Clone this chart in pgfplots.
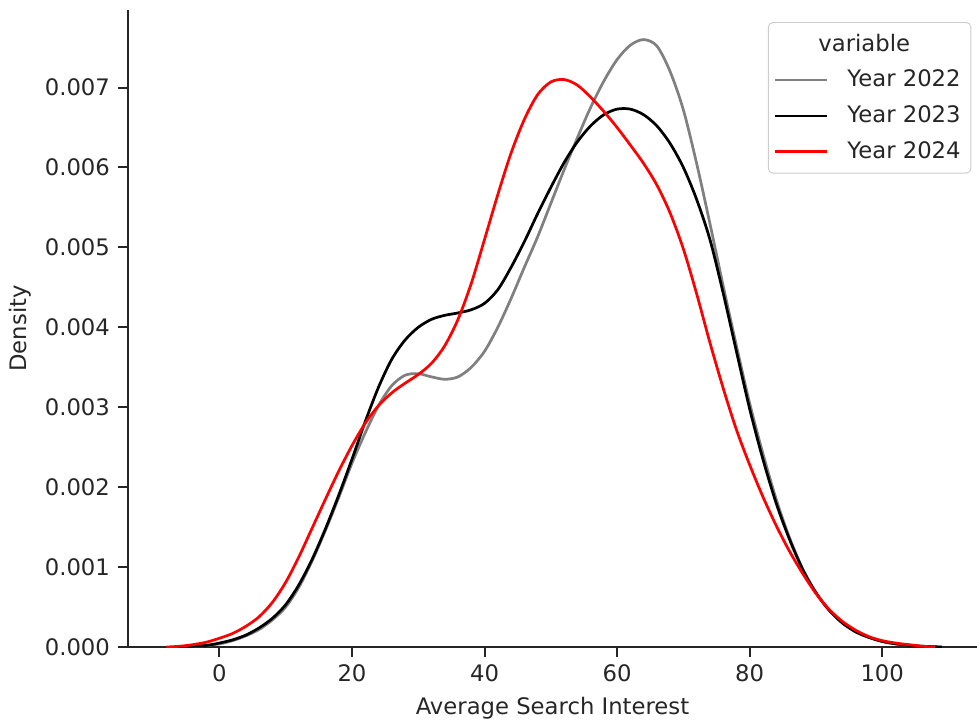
\documentclass[border=0pt]{standalone}
\usepackage{pgfplots}
\pgfplotsset{compat=1.18}
\usepackage{fontspec}
\setmainfont{DejaVu Sans}
\definecolor{txt}{gray}{0.15}
\definecolor{lg}{HTML}{808080}
\begin{document}
\begin{tikzpicture}
\begin{axis}[
  scale only axis,
  width=373.6pt, height=280.3pt,
  xmin=-13.8, xmax=114.3, ymin=0, ymax=0.00797,
  axis lines*=left,
  axis line style={txt, line width=0.9pt},
  every tick/.style={txt, line width=0.9pt},
  tick align=outside,
  major tick length=4.4pt,
  xtick={0,20,40,60,80,100},
  ytick={0,0.001,0.002,0.003,0.004,0.005,0.006,0.007},
  scaled y ticks=false,
  yticklabel style={/pgf/number format/.cd, fixed, fixed zerofill, precision=3},
  /pgf/number format/assume math mode=true,
  tick label style={font=\fontsize{10}{12}\selectfont, text=txt},
  xlabel={Average Search Interest},
  ylabel={Density},
  label style={font=\fontsize{10}{12}\selectfont, text=txt},
  xlabel style={at={(rel axis cs:0.5,0)}, anchor=center, yshift=-27pt},
  ylabel style={at={(axis description cs:-0.1271,0.5)}, anchor=center},
  legend style={at={(rel axis cs:1,1)}, anchor=north east, xshift=-2.5pt, yshift=-5.3pt,
    draw=black!20, rounded corners=2pt, fill=white, text=txt,
    font=\fontsize{10}{12}\selectfont, row sep=2.8pt, inner xsep=2.5pt, inner ysep=3pt,
    /tikz/every odd column/.append style={column sep=6.6pt}},
  legend cell align=left,
  legend image code/.code={\draw[#1] (0cm,0cm) -- (0.79cm,0cm);},
  every axis plot/.append style={line width=1.2pt},
]
\coordinate (bl) at (rel axis cs:0,0);
\coordinate (tr) at (rel axis cs:1,1);
\addlegendimage{empty legend}
\addlegendentry{\hspace*{-12.8pt}variable}
% Year 2022
\addplot[lg, smooth, tension=0.5] coordinates {
(-6,0) (-4,0.00001) (-2,0.00002) (0,0.00004) (2,0.00008) (4,0.00014) (6,0.00022)
(8,0.00034) (10,0.0005) (12,0.00075) (14,0.00108) (16,0.00146) (18,0.00187)
(20,0.0023) (22,0.00268) (24,0.00302) (26,0.00327) (28,0.0034) (30,0.00342)
(32,0.00338) (34,0.00335) (36,0.00338) (38,0.0035) (40,0.0037) (42,0.004)
(44,0.00436) (46,0.00475) (48,0.00513) (50,0.00555) (52,0.00597) (54,0.00637)
(56,0.00675) (58,0.00708) (60,0.00735) (62,0.00753) (64,0.0076) (66,0.00752)
(68,0.0072) (70,0.00672) (72,0.00605) (74,0.0053) (76,0.00452) (78,0.00377)
(80,0.00305) (82,0.00242) (84,0.00185) (86,0.00137) (88,0.00098) (90,0.00068)
(92,0.00046) (94,0.0003) (96,0.00019) (98,0.00012) (100,0.00007) (102,0.00004)
(104,0.00002) (106,0.00001) (109,0)
};
\addlegendentry{Year 2022}
% Year 2023
\addplot[black, smooth, tension=0.5] coordinates {
(-6.5,0) (-4,0.00001) (-2,0.00002) (0,0.00005) (2,0.00009) (4,0.00015) (6,0.00024)
(8,0.00036) (10,0.00053) (12,0.00078) (14,0.0011) (16,0.00148) (18,0.0019)
(20,0.00235) (22,0.00282) (24,0.00325) (26,0.0036) (28,0.00384) (30,0.004)
(32,0.0041) (34,0.00415) (36,0.00418) (38,0.00422) (40,0.0043) (42,0.00447)
(44,0.00475) (46,0.00507) (48,0.00542) (50,0.00575) (52,0.00606) (54,0.00632)
(56,0.00652) (58,0.00666) (60,0.00673) (62,0.00673) (64,0.00666) (66,0.00652)
(68,0.0063) (70,0.006) (72,0.0056) (74,0.0051) (76,0.00443) (78,0.0037)
(80,0.00298) (82,0.00235) (84,0.0018) (86,0.00135) (88,0.00097) (90,0.00068)
(92,0.00046) (94,0.0003) (96,0.00019) (98,0.00012) (100,0.00007) (102,0.00004)
(104,0.00002) (106,0.00001) (109,0)
};
\addlegendentry{Year 2023}
% Year 2024
\addplot[red, smooth, tension=0.5] coordinates {
(-8,0) (-6,0.00001) (-4,0.00003) (-2,0.00006) (0,0.00011) (2,0.00017) (4,0.00026)
(6,0.00038) (8,0.00056) (10,0.00081) (12,0.00113) (14,0.00149) (16,0.00185)
(18,0.0022) (20,0.00252) (22,0.0028) (24,0.00302) (26,0.00318) (28,0.0033)
(30,0.00341) (32,0.00355) (34,0.00377) (36,0.0041) (38,0.00455) (40,0.0051)
(42,0.00566) (44,0.00618) (46,0.0066) (48,0.00691) (50,0.00707) (52,0.0071)
(54,0.00703) (56,0.00688) (58,0.0067) (60,0.0065) (62,0.00628) (64,0.00605)
(66,0.00578) (68,0.00543) (70,0.00498) (72,0.00442) (74,0.00381) (76,0.00324)
(78,0.00272) (80,0.00228) (82,0.00188) (84,0.00152) (86,0.0012) (88,0.00092)
(90,0.00067) (92,0.00047) (94,0.00032) (96,0.00021) (98,0.00013) (100,0.00008)
(102,0.00005) (104,0.00003) (106,0.00001) (108,0)
};
\addlegendentry{Year 2024}
\end{axis}
\pgfresetboundingbox
\path[use as bounding box] ([shift={(-56.3pt,-33.4pt)}]bl) rectangle ([shift={(0pt,4.4pt)}]tr);
\end{tikzpicture}
\end{document}
